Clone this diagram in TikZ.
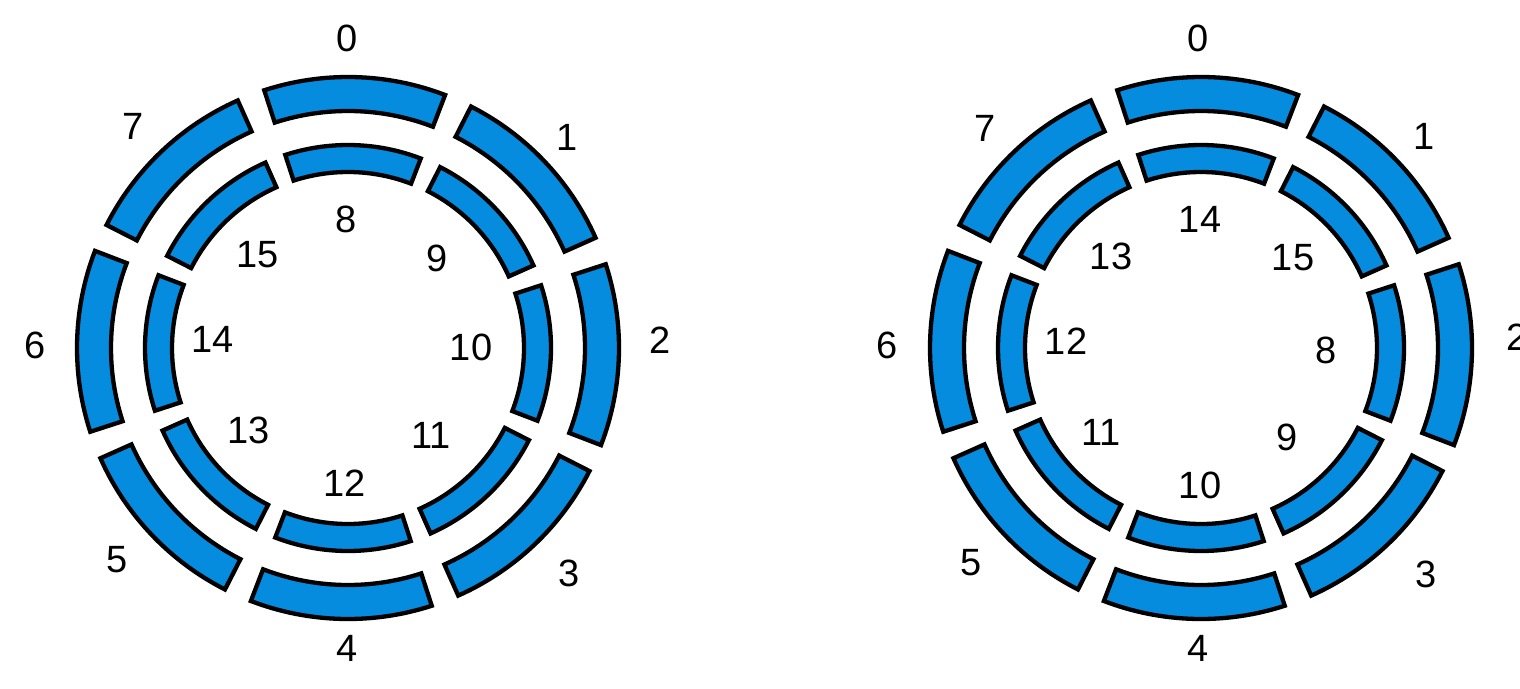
\documentclass[tikz,border=0pt]{standalone}
\usepackage{fontspec}
\setmainfont{Liberation Sans}
\definecolor{segblue}{RGB}{5,140,223}
\tikzset{
  segment/.style={draw=black, fill=segblue, line width=4.3pt, line join=miter},
  num/.style={font=\fontsize{38}{40}\selectfont, inner sep=0pt}
}
\begin{document}
\begin{tikzpicture}[x=1pt,y=-1pt]
\useasboundingbox (0,0) rectangle (1520,688);
\clip (0,0) rectangle (1520,688);
\coordinate (L) at (348,348);
\coordinate (R) at (1201,348);
\foreach \c in {L,R}{
  \foreach \k in {0,...,7}{
    \pgfmathsetmacro\a{1.5+45*\k-90-19.5}
    \pgfmathsetmacro\b{1.5+45*\k-90+19.5}
    \draw[segment] ([shift={(\a:271)}]\c) arc[start angle=\a, end angle=\b, radius=271]
      -- ([shift={(\b:237)}]\c) arc[start angle=\b, end angle=\a, radius=237] -- cycle;
    \draw[segment] ([shift={(\a:203)}]\c) arc[start angle=\a, end angle=\b, radius=203]
      -- ([shift={(\b:176)}]\c) arc[start angle=\b, end angle=\a, radius=176] -- cycle;
  }
}
% left diagram labels
\node[num] (la0) at (347,38) {0};
\node[num] (la1) at (567,137) {1};
\node[num] (la2) at (660,340) {2};
\node[num] (la3) at (569,573) {3};
\node[num] (la4) at (347,648) {4};
\node[num] (la5) at (117,560) {5};
\node[num] (la6) at (35,345) {6};
\node[num] (la7) at (133,126) {7};
\node[num] (la8) at (346,219) {8};
\node[num] (la9) at (437,258) {9};
\node[num] (la10) at (471,347) {10};
\node[num] (la11) at (431,435) {11};
\node[num] (la12) at (345,483) {12};
\node[num] (la13) at (249,430) {13};
\node[num] (la14) at (213,339) {14};
\node[num] (la15) at (258,255) {15};
% right diagram labels
\node[num] (ra0) at (1198,38) {0};
\node[num] (ra1) at (1424,136) {1};
\node[num] (ra2) at (1517,337) {2};
\node[num] (ra3) at (1426,574) {3};
\node[num] (ra4) at (1198,648) {4};
\node[num] (ra5) at (971,563) {5};
\node[num] (ra6) at (887,345) {6};
\node[num] (ra7) at (985,128) {7};
\node[num] (ra14) at (1200,219) {14};
\node[num] (ra15) at (1293,258) {15};
\node[num] (ra8) at (1326,350) {8};
\node[num] (ra9) at (1287,437) {9};
\node[num] (ra10) at (1200,485) {10};
\node[num] (ra11) at (1101,432) {11};
\node[num] (ra12) at (1066,341) {12};
\node[num] (ra13) at (1111,256) {13};
\end{tikzpicture}
\end{document}
